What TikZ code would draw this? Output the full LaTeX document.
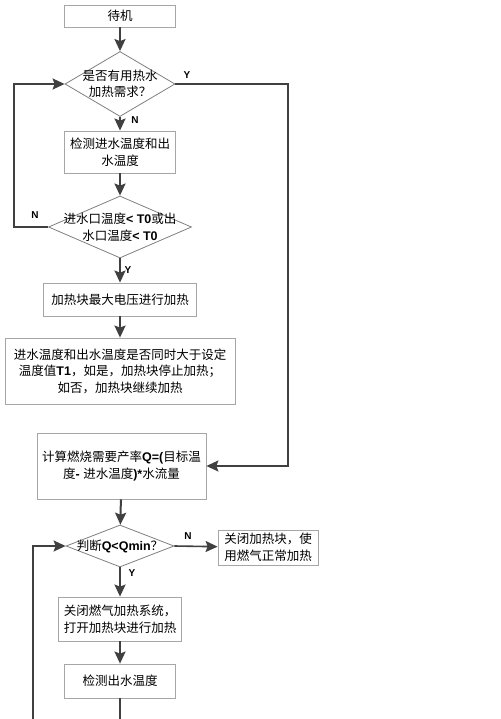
\documentclass[tikz,border=0pt]{standalone}
\usepackage{fontspec}
\newfontfamily\cjk{Noto Sans CJK SC}
\newfontfamily\latin{Liberation Sans}
\newcommand{\lt}[1]{{\latin\bfseries #1}}
\usetikzlibrary{shapes.geometric,arrows.meta}
\begin{document}
\begin{tikzpicture}[x=1pt,y=-1pt,
  box/.style={draw=black!35,line width=0.8pt,align=center,inner sep=0pt,
    font=\cjk\fontsize{12.5}{16.5}\selectfont},
  decision/.style={diamond,draw=black!50,line width=0.8pt,inner sep=0pt},
  dtext/.style={align=center,font=\cjk\fontsize{12.5}{16.5}\selectfont},
  flow/.style={draw=black!75,line width=2pt,-{Stealth[length=12pt,width=11pt,inset=2pt]}},
  side/.style={draw=black!75,line width=1.6pt,-{Stealth[length=12pt,width=11pt,inset=2pt]}},
  wire/.style={draw=black!75,line width=2pt},
  yn/.style={font=\latin\bfseries\fontsize{10}{12}\selectfont}]
\useasboundingbox (0,0) rectangle (500,719);
\clip (0,0) rectangle (500,719);
\fill[white] (0,0) rectangle (500,719);

% upper part: electric heating
\node[box,minimum width=111,minimum height=22] (standby) at (120,16) {待机};
\node[decision,minimum width=110,minimum height=65,
  label={[dtext]center:是否有用热水\\加热需求？}] (need) at (120,84) {};
\node[box,minimum width=111,minimum height=42] (detectin) at (120,152) {检测进水温度和出\\水温度};
\node[decision,minimum width=143,minimum height=62,
  label={[dtext]center:进水口温度\lt{< T0}或出\\水口温度\lt{< T0}}] (low) at (120,227) {};
\node[box,minimum width=153,minimum height=33] (maxheat) at (120,299.5) {加热块最大电压进行加热};
\node[box,minimum width=230,minimum height=66] (check) at (120,371)
  {进水温度和出水温度是否同时大于设定\\温度值\lt{T1}，如是，加热块停止加热；\\如否，加热块继续加热};

% lower part: gas heating
\node[box,minimum width=169,minimum height=66] (calc) at (121.5,466)
  {计算燃烧需要产率\lt{Q=(}目标温\\度\lt{- }进水温度\lt{)*}水流量};
\node[decision,minimum width=108,minimum height=42,
  label={[dtext]center:判断\lt{Q<Qmin}？}] (qmin) at (120,546) {};
\node[box,minimum width=100,minimum height=35] (gas) at (268,547.5) {关闭加热块，使\\用燃气正常加热};
\node[box,minimum width=123,minimum height=44] (block) at (120,619) {关闭燃气加热系统，\\打开加热块进行加热};
\node[box,minimum width=111,minimum height=34] (detectout) at (120,681) {检测出水温度};

\node[yn] (ya) at (187,75) {Y};
\node[yn] (na) at (135,120) {N};
\node[yn] (nb) at (35,215) {N};
\node[yn] (yb) at (128,270) {Y};
\node[yn] (nc) at (188,536) {N};
\node[yn] (yc) at (132,573) {Y};

\coordinate (yturn) at (288,84);
\coordinate (nturn) at (14,227);
\coordinate (loopin) at (33,730);
\coordinate (downout) at (120,730);

\draw[flow] (standby) -- (need);
\draw[flow] (need) -- (detectin);
\draw[flow] (detectin) -- (low);
\draw[flow] (low) -- (maxheat);
\draw[flow] (maxheat) -- (check);
\draw[side] (need.east) -- (yturn) |- (calc.east);
\draw[side] (low.west) -- (nturn) |- (need.west);
\draw[flow] (calc) -- (qmin);
\draw[side] (qmin.east) -- (gas);
\draw[flow] (qmin) -- (block);
\draw[flow] (block) -- (detectout);
\draw[side] (loopin) |- (qmin.west);
\draw[wire] (detectout) -- (downout);
\end{tikzpicture}
\end{document}
